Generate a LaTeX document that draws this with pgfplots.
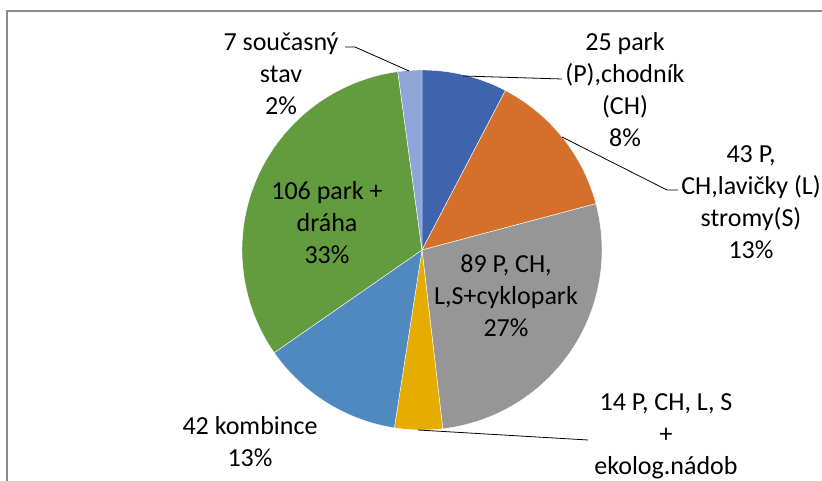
\documentclass[border=0pt]{standalone}
\usepackage{pgfplots}
\pgfplotsset{compat=1.18}
\usepackage{fontspec}
\setmainfont{Carlito}
\definecolor{c1}{HTML}{3E64AD}
\definecolor{c2}{HTML}{D5702C}
\definecolor{c3}{HTML}{969696}
\definecolor{c4}{HTML}{E6AC00}
\definecolor{c5}{HTML}{4F89BF}
\definecolor{c6}{HTML}{639B3F}
\definecolor{c7}{HTML}{8FA5D7}
\definecolor{framec}{HTML}{8C8C8C}
% values
\def\vA{25}\def\vB{43}\def\vC{89}\def\vD{14}\def\vE{42}\def\vF{106}\def\vG{7}
\pgfmathsetmacro\tot{\vA+\vB+\vC+\vD+\vE+\vF+\vG}
\pgfmathsetmacro\k{360/\tot}
\pgfmathsetmacro\aA{90}
\pgfmathsetmacro\aB{\aA-\k*\vA}
\pgfmathsetmacro\aC{\aB-\k*\vB}
\pgfmathsetmacro\aD{\aC-\k*\vC}
\pgfmathsetmacro\aE{\aD-\k*\vD}
\pgfmathsetmacro\aF{\aE-\k*\vE}
\pgfmathsetmacro\aG{\aF-\k*\vF}
\pgfmathsetmacro\aH{\aG-\k*\vG}
\begin{document}
\begin{tikzpicture}
\begin{axis}[x=0.75pt,y=0.75pt,xmin=-422,xmax=400,ymin=-231,ymax=250,
  hide axis,scale only axis,clip=false,at={(0,0)},anchor=south west]
\addplot[fill=c1,draw=white,line width=0.3pt,data cs=polar,domain=\aB:\aA,samples=40] {180} -- (axis cs:0,0) -- cycle;
\addplot[fill=c2,draw=white,line width=0.3pt,data cs=polar,domain=\aC:\aB,samples=40] {180} -- (axis cs:0,0) -- cycle;
\addplot[fill=c3,draw=white,line width=0.3pt,data cs=polar,domain=\aD:\aC,samples=60] {180} -- (axis cs:0,0) -- cycle;
\addplot[fill=c4,draw=white,line width=0.3pt,data cs=polar,domain=\aE:\aD,samples=20] {180} -- (axis cs:0,0) -- cycle;
\addplot[fill=c5,draw=white,line width=0.3pt,data cs=polar,domain=\aF:\aE,samples=40] {180} -- (axis cs:0,0) -- cycle;
\addplot[fill=c6,draw=white,line width=0.3pt,data cs=polar,domain=\aG:\aF,samples=60] {180} -- (axis cs:0,0) -- cycle;
\addplot[fill=c7,draw=white,line width=0.3pt,data cs=polar,domain=\aH:\aG,samples=20] {180} -- (axis cs:0,0) -- cycle;
% frame
\draw[framec,line width=0.9pt] (axis cs:-415,-260) -- (axis cs:-415,239) -- (axis cs:430,239);
% leader lines
\draw[black,line width=0.6pt] (axis cs:-77,203) -- (axis cs:-67,203) -- (axis cs:-13,179);
\draw[black,line width=0.6pt] (axis cs:41,174) -- (axis cs:140,171);
\draw[black,line width=0.6pt] (axis cs:140,113) -- (axis cs:245,60) -- (axis cs:256,60);
\draw[black,line width=0.6pt] (axis cs:-4,-180) -- (axis cs:166,-190);
% labels
\tikzset{lab/.style={align=center,inner sep=0pt,font=\fontsize{19.5}{24}\selectfont}}
\node[lab] at (axis cs:-141,176) {7 současný\\stav\\2\%};
\node[lab] at (axis cs:203,160) {25 park\\(P),chodník\\(CH)\\8\%};
\node[lab] at (axis cs:329,48) {43 P,\\CH,lavičky (L)\\stromy(S)\\13\%};
\node[lab] at (axis cs:84,-46) {89 P, CH,\\L,S+cyklopark\\27\%};
\node[lab] at (axis cs:244,-186) {14 P, CH, L, S\\+\\ekolog.nádob};
\node[lab] at (axis cs:-172,-192) {42 kombince\\13\%};
\node[lab] at (axis cs:-95,27) {106 park +\\dráha\\33\%};
\end{axis}
\pgfresetboundingbox
\useasboundingbox (0,0) rectangle (616.5pt,360.75pt);
\end{tikzpicture}
\end{document}
